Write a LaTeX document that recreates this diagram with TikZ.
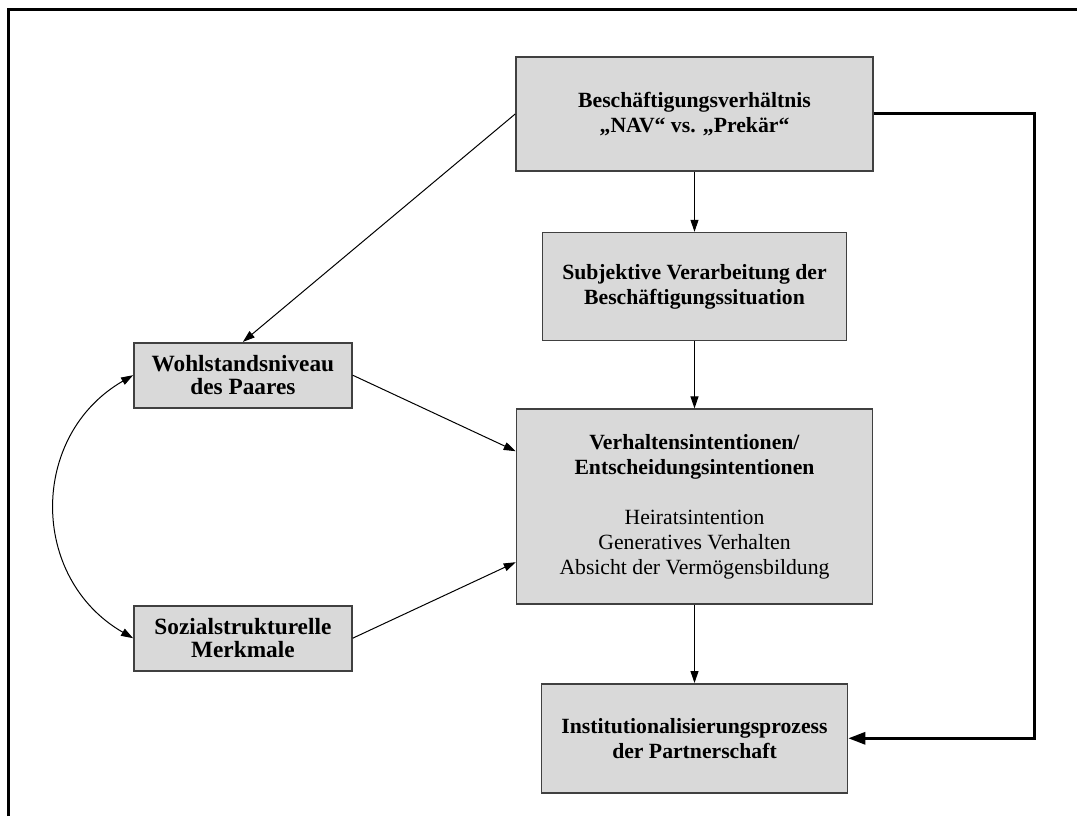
\documentclass[tikz,border=0pt]{standalone}
\usepackage{fontspec}
\setmainfont{Liberation Serif}
\usepackage{tikz}
\usetikzlibrary{arrows.meta, positioning}

\definecolor{boxfill}{RGB}{217,217,217}
\definecolor{boxline}{RGB}{64,64,64}

\tikzset{
  stdbox/.style={rectangle, draw=boxline, fill=boxfill, line width=0.8pt, align=center, inner sep=0pt, font=\fontsize{10.85}{12.5}\selectfont},
  sidebox/.style={stdbox, font=\fontsize{11.65}{11.7}\selectfont\bfseries},
  feedback/.style={-{Triangle[length=8.5pt,width=6pt]}, line width=1.5pt}
}

\begin{document}
\begin{tikzpicture}[>={Triangle[length=6pt,width=4pt]}, line width=0.5pt]
\useasboundingbox (0,0) rectangle (538.5pt,408pt);
\draw[line width=1.5pt] (4pt,0) -- (4pt,403pt) -- (538.5pt,403pt);

% Main column
\node[stdbox, font=\fontsize{10.85}{12.5}\selectfont\bfseries, minimum width=178.5pt, minimum height=57pt] (job) at (347.25pt,351pt) {Beschäftigungsverhältnis\\„NAV“ vs. „Prekär“};
\node[stdbox, font=\fontsize{10.85}{12.5}\selectfont\bfseries, minimum width=152pt, minimum height=54pt, below=30pt of job] (subjective) {Subjektive Verarbeitung der\\Beschäftigungssituation};
\node[stdbox, minimum width=178pt, minimum height=97.5pt, below=33.5pt of subjective] (intention) {\textbf{Verhaltensintentionen/}\\\textbf{Entscheidungsintentionen}\\[12.5pt]Heiratsintention\\Generatives Verhalten\\Absicht der Vermögensbildung};
\node[stdbox, font=\fontsize{10.85}{12.5}\selectfont\bfseries, minimum width=153pt, minimum height=54.5pt, below=39pt of intention] (institution) {Institutionalisierungsprozess\\der Partnerschaft};

% Side boxes
\node[sidebox, minimum width=109pt, minimum height=32.5pt, left=81.5pt of intention, yshift=65.75pt] (wealth) {Wohlstandsniveau\\des Paares};
\node[sidebox, minimum width=109pt, minimum height=32.5pt, left=81.5pt of intention, yshift=-65.75pt] (social) {Sozialstrukturelle\\Merkmale};

% Arrows down the column
\draw[->] (job.south) -- (subjective.north);
\draw[->] (subjective.south) -- (intention.north);
\draw[->] (intention.south) -- (institution.north);

% Arrows from the side
\draw[->] (job.west) -- (wealth.north);
\draw[->] (wealth.east) -- ([yshift=27.75pt]intention.west);
\draw[->] (social.east) -- ([yshift=-27.75pt]intention.west);
\draw[<->] (wealth.west) .. controls +(-52pt,-30pt) and +(-52pt,30pt) .. (social.west);

% Feedback line
\draw[feedback] (job.east) -- ++(80.5pt,0) |- (institution.east);
\end{tikzpicture}
\end{document}
